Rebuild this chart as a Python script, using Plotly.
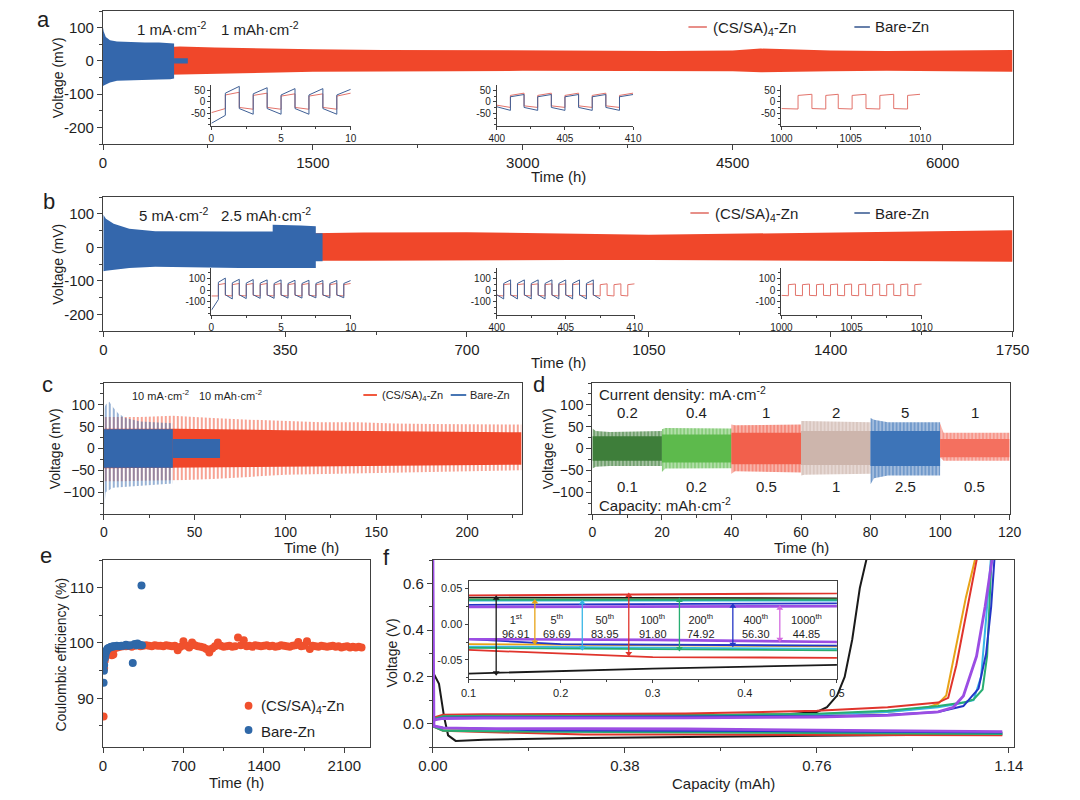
import plotly.graph_objects as go

W, H = 1080, 800
FONT = "Liberation Sans, Arial, Helvetica, sans-serif"
INK = "#1e1e1e"
AX = "#404040"
RED = "#F0472A"
BLUE = "#3467AC"
IN_RED = "#E2736B"
IN_BLUE = "#3F5F95"

# ---------------- panel a : 1 mA cm-2, 1 mAh cm-2 ----------------
a_red_t = [470, 550, 800, 1000, 1500, 2000, 2500, 3000, 3500, 4000, 4500, 4700, 4900, 5200, 5600, 6000, 6500]
a_red_up = [42, 43, 40, 38, 35, 33, 32, 32, 31, 30, 31, 37, 35, 31, 30, 31, 33]
a_red_lo = [-42, -42, -39, -37, -33, -32, -31, -30, -30, -30, -31, -34, -33, -31, -30, -31, -33]
a_blue_t = [0, 5, 20, 50, 100, 200, 300, 400, 480, 508]
a_blue_up = [100, 88, 72, 62, 58, 56, 55, 55, 54, 52]
a_blue_lo = [-76, -74, -70, -65, -60, -58, -57, -56, -55, -53]
a_tail_t = [508, 606]
a_tail_up = [8, 8]
a_tail_lo = [-8, -8]

# insets of a (half-cycle boundaries, start / end voltage of each half-cycle)
a1_tb = [0, 1, 2, 3, 4, 5, 6, 7, 8, 9, 10]
a1_blue_s = [-95, 38, -30, 35, -30, 30, -30, 30, -30, 30]
a1_blue_e = [-60, 68, -55, 62, -55, 58, -55, 58, -55, 55]
a1_red_s = [-48, 30, -25, 28, -25, 25, -25, 25, -25, 25]
a1_red_e = [-30, 42, -33, 38, -33, 35, -33, 35, -33, 38]
a2_tb = [400, 401, 402, 403, 404, 405, 406, 407, 408, 409, 410]
a2_blue_s = [-22, 22, -25, 22, -25, 22, -25, 22, -25, 22]
a2_blue_e = [-38, 32, -38, 32, -38, 32, -38, 32, -38, 32]
a2_red_s = [-15, 28, -18, 28, -18, 28, -18, 28, -18, 28]
a2_red_e = [-25, 38, -25, 38, -25, 38, -25, 38, -25, 38]
a3_tb = [1000, 1001.2, 1002.2, 1003.2, 1004.1, 1005.1, 1006.1, 1007.1, 1008.1, 1009.1, 1010]
a3_red_s = [-30, 28, -30, 28, -30, 28, -30, 28, -30, 28]
a3_red_e = [-32, 33, -32, 33, -32, 33, -32, 33, -32, 33]

# ---------------- panel b : 5 mA cm-2, 2.5 mAh cm-2 ----------------
b_red_t = [400, 500, 700, 900, 1050, 1200, 1400, 1600, 1750]
b_red_up = [42, 44, 45, 40, 37, 40, 43, 48, 51]
b_red_lo = [-40, -40, -40, -38, -38, -39, -40, -42, -43]
b_blue_t = [0, 5, 20, 50, 100, 150, 200, 250, 300, 326, 326, 350, 380, 409, 409, 422]
b_blue_up = [97, 85, 70, 55, 48, 47, 47, 47, 47, 47, 67, 67, 65, 63, 42, 42]
b_blue_lo = [-72, -70, -66, -62, -58, -58, -60, -62, -63, -63, -83, -85, -80, -78, -42, -42]

b1_tb = [0, 0.5, 1, 1.5, 2, 2.5, 3, 3.5, 4, 4.5, 5, 5.5, 6, 6.5, 7, 7.5, 8, 8.5, 9, 9.5, 10]
b1_blue_s = [-170, 65, -40, 60, -40, 58, -40, 58, -40, 55, -40, 55, -40, 55, -40, 55, -40, 55, -40, 55]
b1_blue_e = [-80, 100, -75, 90, -72, 88, -70, 85, -70, 85, -68, 82, -68, 82, -66, 80, -66, 80, -65, 80]
b1_red_s = [-50, 45, -45, 45, -45, 45, -45, 45, -45, 45, -45, 45, -45, 45, -45, 45, -45, 45, -45, 45]
b1_red_e = [-50, 55, -50, 55, -50, 55, -50, 55, -50, 55, -50, 55, -50, 55, -50, 55, -50, 55, -50, 55]
b2_tb = [400, 400.5, 401, 401.5, 402, 402.5, 403, 403.5, 404, 404.5, 405, 405.5, 406, 406.5, 407, 407.5,
         408, 408.5, 409, 409.5, 410]
b2_blue_s = [-40, 55, -40, 55, -40, 55, -40, 55, -40, 55, -40, 55, -40, 55, -40]
b2_blue_e = [-75, 85, -75, 85, -75, 85, -75, 85, -75, 85, -75, 85, -75, 85, -75]
b2_red_s = [-45, 45, -45, 45, -45, 45, -45, 45, -45, 45, -45, 45, -45, 45, -45, 45, -45, 45, -45, 45]
b2_red_e = [-50, 52, -50, 52, -50, 52, -50, 52, -50, 52, -50, 52, -50, 52, -50, 52, -50, 52, -50, 52]
b3_tb = [1000, 1000.5, 1001, 1001.5, 1002, 1002.5, 1003, 1003.5, 1004, 1004.5, 1005, 1005.5, 1006, 1006.5,
         1007, 1007.5, 1008, 1008.5, 1009, 1009.5, 1010]
b3_red_s = [-45, 45, -45, 45, -45, 45, -45, 45, -45, 45, -45, 45, -45, 45, -45, 45, -45, 45, -45, 45]
b3_red_e = [-48, 50, -48, 50, -48, 50, -48, 50, -48, 50, -48, 50, -48, 50, -48, 50, -48, 50, -48, 50]

# ---------------- panel c : 10 mA cm-2, 10 mAh cm-2 ----------------
c_red_t = [0, 10, 20, 38, 45, 60, 80, 100, 120, 140, 160, 180, 200, 230]
c_red_up = [72, 72, 72, 75, 73, 70, 66, 63, 60, 60, 57, 56, 55, 55]
c_red_lo = [-75, -75, -74, -73, -72, -70, -65, -60, -58, -56, -55, -53, -52, -50]
c_red_in_t = [0, 40, 100, 160, 230]
c_red_in_up = [45, 45, 42, 39, 37]
c_red_in_lo = [-45, -44, -42, -39, -37]
c_blue_t = [0, 1, 3, 5, 8, 12, 20, 30, 38]
c_blue_up = [90, 100, 107, 95, 80, 70, 62, 60, 58]
c_blue_lo = [-150, -100, -95, -90, -88, -87, -85, -82, -80]
c_blue_in_t = [0, 38]
c_blue_in_up = [44, 44]
c_blue_in_lo = [-44, -44]
c_blue2_t = [38, 64]
c_blue2_up = [22, 22]
c_blue2_lo = [-22, -22]

# ---------------- panel d : rate test ----------------
d_seg_t = [[0, 1, 5, 20], [20, 21, 40], [40, 41, 60], [60, 61, 80], [80, 81, 85, 100], [100, 101, 120]]
d_seg_up = [[46, 40, 38, 40], [44, 47, 46], [55, 53, 55], [63, 63, 60], [70, 66, 60, 60], [58, 36, 36]]
d_seg_lo = [[-46, -42, -40, -40], [-54, -46, -45], [-58, -52, -55], [-62, -60, -58], [-82, -68, -62, -62],
            [-20, -28, -28]]
d_in_up = [28, 32, 36, 40, 40, 22]
d_in_lo = [-28, -32, -36, -38, -40, -20]
d_colors = ["#3E7E3A", "#5DBA4C", "#F2604C", "#CDB5AC", "#3D74B8", "#F4705F"]
d_tints = ["rgba(62,126,58,0.45)", "rgba(93,186,76,0.45)", "rgba(242,96,76,0.45)",
           "rgba(205,181,172,0.5)", "rgba(61,116,184,0.45)", "rgba(244,112,95,0.45)"]
d_label_t = [10, 30, 50, 70, 90, 110]
d_current = ["0.2", "0.4", "1", "2", "5", "1"]
d_capacity = ["0.1", "0.2", "0.5", "1", "2.5", "0.5"]

# ---------------- panel e : Coulombic efficiency ----------------
e_red_t = [5, 10, 15, 20, 30, 40, 50, 60, 76, 90,
           100, 125, 150, 175, 200, 225, 250, 275, 300, 325, 350, 375, 400, 425, 450, 475, 500, 525, 550,
           575, 600, 625, 650, 675, 700, 725, 750, 775, 800, 825, 850, 875, 900, 925, 950, 975, 1000,
           1025, 1050, 1075, 1100, 1125, 1150, 1175, 1200, 1225, 1250, 1275, 1300, 1325, 1350, 1375,
           1400, 1425, 1450, 1475, 1500, 1525, 1550, 1575, 1600, 1625, 1650, 1675, 1700, 1725, 1750,
           1775, 1800, 1825, 1850, 1875, 1900, 1925, 1950, 1975, 2000, 2025, 2050, 2075, 2100, 2125,
           2150, 2175, 2200, 2225, 2250]
e_red_ce = [86.7, 95.5, 96.8, 97.4, 97.9, 98.3, 98.6, 98.8, 97.8, 97.9,
            99.0, 99.2, 99.3, 99.4, 99.4, 99.5, 99.3, 99.5, 99.6, 99.4, 99.5, 99.6, 99.5, 99.4, 99.6,
            99.5, 99.5, 99.4, 99.6, 99.5, 99.4, 99.5, 98.7, 99.3, 100.3, 99.5, 99.2, 100.1, 99.6, 99.4,
            99.3, 99.2, 98.9, 98.3, 99.0, 99.4, 100.1, 99.5, 99.3, 99.4, 99.5, 99.3, 99.4, 101.0, 99.6,
            100.5, 99.4, 99.5, 99.3, 99.6, 99.5, 99.4, 99.5, 99.6, 99.4, 99.5, 99.3, 99.4, 99.6, 99.5,
            99.4, 99.3, 99.5, 99.6, 100.2, 99.4, 99.5, 100.3, 98.9, 99.5, 99.4, 99.3, 99.5, 99.4, 99.3,
            99.4, 99.5, 99.3, 99.4, 99.2, 99.3, 99.4, 99.2, 99.3, 99.2, 99.3, 99.2]
e_blue_t = [5, 8, 10, 15, 20, 25, 30, 35, 40, 50, 60, 70, 80, 90, 100, 120, 140, 160, 180, 200, 220,
            240, 259, 275, 290, 300, 320, 335, 340]
e_blue_ce = [92.8, 95.0, 96.0, 97.2, 97.8, 98.3, 98.6, 98.8, 99.0, 99.1, 99.2, 99.3, 99.3, 99.4, 99.4,
             99.5, 99.4, 99.5, 99.5, 99.7, 99.5, 99.6, 96.4, 99.8, 99.6, 99.9, 99.7, 110.4, 99.6]

# ---------------- panel f : Zn||Cu voltage profiles ----------------
f_names = ["1", "5", "50", "100", "200", "400", "1000"]
f_sup = ["st", "th", "th", "th", "th", "th", "th"]
f_pol = ["96.91", "69.69", "83.95", "91.80", "74.92", "56.30", "44.85"]
f_colors = ["#1a1a1a", "#E8A317", "#38B6E6", "#E0342C", "#27AE72", "#2436C6", "#9B4DE3"]
f_arrow_colors = ["#1a1a1a", "#E8A317", "#38B6E6", "#E0342C", "#27AE72", "#2436C6", "#D36BE0"]
f_plate_x = [
    [0, 0.012, 0.022, 0.03, 0.045, 0.1, 0.3, 0.5, 0.76, 1.0, 1.127],
    [0, 0.02, 0.1, 0.3, 0.5, 0.76, 1.127],
    [0, 0.02, 0.1, 0.3, 0.5, 0.76, 1.127],
    [0, 0.02, 0.1, 0.3, 0.5, 0.76, 1.127],
    [0, 0.02, 0.1, 0.3, 0.5, 0.76, 1.127],
    [0, 0.02, 0.1, 0.2, 0.5, 0.76, 1.127],
    [0, 0.002, 0.02, 0.1, 0.3, 0.5, 0.76, 1.127],
]
f_plate_y = [
    [0.22, 0.17, 0.03, -0.05, -0.074, -0.069, -0.062, -0.057, -0.052, -0.048, -0.046],
    [-0.01, -0.026, -0.028, -0.030, -0.031, -0.035, -0.040],
    [-0.01, -0.028, -0.031, -0.033, -0.034, -0.037, -0.042],
    [-0.012, -0.030, -0.036, -0.046, -0.047, -0.048, -0.050],
    [-0.012, -0.030, -0.033, -0.035, -0.036, -0.039, -0.044],
    [-0.01, -0.018, -0.021, -0.028, -0.030, -0.033, -0.038],
    [0.7, -0.01, -0.018, -0.021, -0.022, -0.023, -0.028, -0.034],
]
f_strip_x = [
    [0, 0.02, 0.1, 0.3, 0.5, 0.7, 0.76, 0.78, 0.80, 0.815, 0.83, 0.845, 0.86],
    [0, 0.02, 0.1, 0.3, 0.5, 0.76, 0.9, 0.98, 1.0, 1.016, 1.033, 1.055, 1.075],
    [0, 0.02, 0.1, 0.3, 0.5, 0.76, 0.9, 1.0, 1.04, 1.07, 1.085, 1.095, 1.105],
    [0, 0.02, 0.1, 0.3, 0.5, 0.76, 0.9, 1.0, 1.02, 1.036, 1.058, 1.078],
    [0, 0.02, 0.1, 0.3, 0.5, 0.76, 0.9, 1.0, 1.05, 1.07, 1.088, 1.097, 1.102, 1.106],
    [0, 0.02, 0.1, 0.3, 0.5, 0.76, 0.9, 1.0, 1.05, 1.08, 1.095, 1.105, 1.112],
    [0, 0.02, 0.1, 0.3, 0.5, 0.76, 0.9, 1.0, 1.03, 1.05, 1.076, 1.093, 1.108],
]
f_strip_y = [
    [0.01, 0.033, 0.037, 0.037, 0.036, 0.040, 0.050, 0.070, 0.12, 0.20, 0.36, 0.58, 0.72],
    [0.02, 0.030, 0.034, 0.034, 0.034, 0.040, 0.050, 0.070, 0.085, 0.12, 0.30, 0.54, 0.72],
    [0.02, 0.030, 0.033, 0.033, 0.033, 0.040, 0.050, 0.070, 0.085, 0.10, 0.20, 0.45, 0.72],
    [0.025, 0.038, 0.040, 0.042, 0.043, 0.055, 0.070, 0.090, 0.11, 0.25, 0.50, 0.72],
    [0.02, 0.032, 0.034, 0.034, 0.034, 0.042, 0.055, 0.075, 0.09, 0.103, 0.146, 0.29, 0.57, 0.72],
    [0.015, 0.025, 0.027, 0.028, 0.029, 0.032, 0.038, 0.050, 0.075, 0.15, 0.30, 0.50, 0.72],
    [0.015, 0.022, 0.024, 0.024, 0.025, 0.028, 0.035, 0.050, 0.070, 0.118, 0.288, 0.50, 0.72],
]
f_arrow_x = [0.130, 0.172, 0.2235, 0.274, 0.329, 0.387, 0.438]
f_arrow_top = [0.036, 0.031, 0.030, 0.040, 0.033, 0.025, 0.022]
f_arrow_bot = [-0.068, -0.025, -0.033, -0.041, -0.034, -0.028, -0.021]
f_label_x = [0.151, 0.196, 0.248, 0.300, 0.352, 0.412, 0.467]

# ====================================================================
fig = go.Figure()


def ax_names(n):
    return ("x" if n == 1 else f"x{n}"), ("y" if n == 1 else f"y{n}")


def band(t, up, lo, color, n, pattern=None, bg=None):
    xa, ya = ax_names(n)
    xs = list(t) + list(t)[::-1]
    ys = list(up) + list(lo)[::-1]
    kw = dict(x=xs, y=ys, mode="lines", fill="toself", line=dict(width=0, color=color),
              hoverinfo="skip", showlegend=False, xaxis=xa, yaxis=ya)
    if pattern:
        kw["fillcolor"] = bg if bg else "rgba(0,0,0,0)"
        kw["fillpattern"] = dict(shape="|", size=pattern[0], solidity=pattern[1], fgcolor=color,
                                 bgcolor=bg if bg else "rgba(0,0,0,0)")
    else:
        kw["fillcolor"] = color
    fig.add_trace(go.Scatter(**kw))


def steps(tb, s, e, color, n, width=1.0):
    xa, ya = ax_names(n)
    xs, ys = [], []
    for i in range(len(s)):
        xs += [tb[i], tb[i + 1]]
        ys += [s[i], e[i]]
    fig.add_trace(go.Scatter(x=xs, y=ys, mode="lines", line=dict(color=color, width=width),
                             hoverinfo="skip", showlegend=False, xaxis=xa, yaxis=ya))


# panel a
band(a_red_t, a_red_up, a_red_lo, RED, 1)
band(a_blue_t, a_blue_up, a_blue_lo, BLUE, 1)
band(a_tail_t, a_tail_up, a_tail_lo, BLUE, 1)
steps(a1_tb, a1_red_s, a1_red_e, IN_RED, 2)
steps(a1_tb, a1_blue_s, a1_blue_e, IN_BLUE, 2)
steps(a2_tb, a2_red_s, a2_red_e, IN_RED, 3)
steps(a2_tb, a2_blue_s, a2_blue_e, IN_BLUE, 3)
steps(a3_tb, a3_red_s, a3_red_e, IN_RED, 4)

# panel b
band(b_red_t, b_red_up, b_red_lo, RED, 5)
band(b_blue_t, b_blue_up, b_blue_lo, BLUE, 5)
steps(b1_tb, b1_red_s, b1_red_e, IN_RED, 6)
steps(b1_tb, b1_blue_s, b1_blue_e, IN_BLUE, 6)
steps(b2_tb, b2_red_s, b2_red_e, IN_RED, 7)
steps(b2_tb, b2_blue_s, b2_blue_e, IN_BLUE, 7)
steps(b3_tb, b3_red_s, b3_red_e, IN_RED, 8)

# panel c
band(c_red_t, c_red_up, c_red_lo, RED, 9, pattern=(4, 0.5))
band(c_red_in_t, c_red_in_up, c_red_in_lo, RED, 9)
band(c_blue_t, c_blue_up, c_blue_lo, BLUE, 9, pattern=(4, 0.5))
band(c_blue_in_t, c_blue_in_up, c_blue_in_lo, BLUE, 9)
band(c_blue2_t, c_blue2_up, c_blue2_lo, BLUE, 9)

# panel d
for i in range(len(d_seg_t)):
    band(d_seg_t[i], d_seg_up[i], d_seg_lo[i], d_colors[i], 10, pattern=(3.6, 0.55), bg=d_tints[i])
    t_seg = [d_seg_t[i][0], d_seg_t[i][-1]]
    band(t_seg, [d_in_up[i]] * 2, [d_in_lo[i]] * 2, d_colors[i], 10)

# panel e
fig.add_trace(go.Scatter(x=e_red_t, y=e_red_ce, mode="markers", marker=dict(color="#F0502D", size=8),
                         showlegend=False, xaxis="x11", yaxis="y11", hoverinfo="skip"))
fig.add_trace(go.Scatter(x=e_blue_t, y=e_blue_ce, mode="markers", marker=dict(color="#2F68A8", size=8),
                         showlegend=False, xaxis="x11", yaxis="y11", hoverinfo="skip"))

# panel f (main + inset)
for n, lw in ((12, 2.0), (13, 1.8)):
    for i in range(len(f_names)):
        w = lw + (0.8 if i == 6 else 0)
        fig.add_trace(go.Scatter(x=f_plate_x[i], y=f_plate_y[i], mode="lines",
                                 line=dict(color=f_colors[i], width=w), showlegend=False,
                                 xaxis=f"x{n}", yaxis=f"y{n}", hoverinfo="skip"))
        fig.add_trace(go.Scatter(x=f_strip_x[i], y=f_strip_y[i], mode="lines",
                                 line=dict(color=f_colors[i], width=w), showlegend=False,
                                 xaxis=f"x{n}", yaxis=f"y{n}", hoverinfo="skip"))

# double-headed polarisation arrows in the inset of f
for i in range(len(f_names)):
    fig.add_trace(go.Scatter(x=[f_arrow_x[i], f_arrow_x[i]], y=[f_arrow_top[i], f_arrow_bot[i]],
                             mode="lines+markers", line=dict(color=f_arrow_colors[i], width=1.3),
                             marker=dict(symbol=["triangle-up", "triangle-down"], size=6,
                                         color=f_arrow_colors[i], line=dict(width=0)),
                             showlegend=False, xaxis="x13", yaxis="y13", hoverinfo="skip",
                             cliponaxis=False))

# ====================================================================
layout = {}


def xd(l, r):
    return [l / W, r / W]


def yd(top, bottom):
    return [1 - bottom / H, 1 - top / H]


def minor(dt, ln=3):
    return dict(ticks="outside", ticklen=ln, tickwidth=1, tickcolor=AX, dtick=dt, tick0=0, showgrid=False)


def set_axes(n, xdom, ydom, xr, yr, xkw, ykw, inset=False, fs=None):
    xn, yn = ax_names(n)
    if fs is None:
        fs = 10 if inset else 15
    base = dict(showline=True, linecolor=AX, linewidth=1.0 if inset else 1.2, mirror=not inset,
                ticks="outside", ticklen=3 if inset else 5, tickwidth=1.0, tickcolor=AX,
                showgrid=False, zeroline=False, fixedrange=True,
                tickfont=dict(family=FONT, size=fs, color=INK))
    xa = dict(base)
    xa.update(domain=xdom, range=xr, anchor=yn)
    xa.update(xkw)
    ya = dict(base)
    ya.update(domain=ydom, range=yr, anchor=xn)
    ya.update(ykw)
    layout["xaxis" if n == 1 else f"xaxis{n}"] = xa
    layout["yaxis" if n == 1 else f"yaxis{n}"] = ya


yab = dict(tickvals=[-200, -100, 0, 100], ticktext=["-200", "-100", "0", "100"], minor=minor(50))
# a
set_axes(1, xd(90.7, 1028), yd(11, 144), [0, 6500], [-250, 150],
         dict(dtick=1500, tick0=0, minor=minor(750)), yab)
ins_a_y = dict(tickvals=[-50, 0, 50], ticktext=["-50", "0", "50"], minor=minor(25, 2))
set_axes(2, xd(202.4, 346), yd(85, 126), [0, 10], [-107, 74],
         dict(tickvals=[0, 5, 10], minor=minor(2.5, 2)), ins_a_y, inset=True)
set_axes(3, xd(496.5, 637), yd(85, 126), [400, 410], [-107, 74],
         dict(tickvals=[400, 405, 410], minor=minor(2.5, 2)), ins_a_y, inset=True)
set_axes(4, xd(789.8, 932.7), yd(85, 126), [1000, 1010], [-107, 74],
         dict(tickvals=[1000, 1005, 1010], minor=minor(2.5, 2)), ins_a_y, inset=True)
# b
set_axes(5, xd(91, 1028), yd(197, 331), [0, 1750], [-250, 150],
         dict(dtick=350, tick0=0, minor=minor(175)), yab)
ins_b_y = dict(tickvals=[-100, 0, 100], ticktext=["-100", "0", "100"], minor=minor(50, 2))
set_axes(6, xd(202.4, 346), yd(268, 315), [0, 10], [-210, 185],
         dict(tickvals=[0, 5, 10], minor=minor(2.5, 2)), ins_b_y, inset=True)
set_axes(7, xd(496.5, 638.6), yd(268, 315), [400, 410], [-210, 185],
         dict(tickvals=[400, 405, 410], minor=minor(2.5, 2)), ins_b_y, inset=True)
set_axes(8, xd(789.8, 934.5), yd(268, 315), [1000, 1010], [-210, 185],
         dict(tickvals=[1000, 1005, 1010], minor=minor(2.5, 2)), ins_b_y, inset=True)
# c, d
ycd = dict(tickvals=[-100, -50, 0, 50, 100], minor=minor(25))
set_axes(9, xd(91.5, 522), yd(383, 514), [0, 230], [-150, 150],
         dict(dtick=50, tick0=0, minor=minor(25)), ycd, fs=14)
set_axes(10, xd(595, 1025), yd(383, 514), [0, 120], [-150, 150],
         dict(dtick=20, tick0=0, minor=minor(10)), ycd, fs=14)
# e
set_axes(11, xd(90.7, 366), yd(560, 747), [0, 2325], [81.2, 115],
         dict(dtick=700, tick0=0, minor=minor(350)),
         dict(tickvals=[90, 100, 110], minor=minor(5)))
# f
set_axes(12, xd(430.7, 1029.4), yd(560, 747), [0, 1.15], [-0.1, 0.7],
         dict(tickvals=[0, 0.38, 0.76, 1.14], ticktext=["0.00", "0.38", "0.76", "1.14"], minor=minor(0.19)),
         dict(tickvals=[0, 0.2, 0.4, 0.6], ticktext=["0.0", "0.2", "0.4", "0.6"], minor=minor(0.1)))
set_axes(13, xd(467.4, 847), yd(580.7, 679.3), [0.1, 0.5], [-0.077, 0.0606],
         dict(tickvals=[0.1, 0.2, 0.3, 0.4, 0.5], ticktext=["0.1", "0.2", "0.3", "0.4", "0.5"],
              minor=minor(0.05, 2), mirror=True),
         dict(tickvals=[-0.05, 0, 0.05], ticktext=["-0.05", "0.00", "0.05"], minor=minor(0.025, 2),
              mirror=True), inset=True, fs=11)

# ====================================================================
ann = []
shapes = []


def text(t, xp, yp, size=15, xanchor="center", angle=0, color=INK):
    ann.append(dict(text=t, x=xp / W, y=1 - yp / H, xref="paper", yref="paper", showarrow=False,
                    xanchor=xanchor, yanchor="middle", textangle=angle,
                    font=dict(family=FONT, size=size, color=color)))


def legline(x0, x1, yp, color, w=1.6):
    shapes.append(dict(type="line", xref="paper", yref="paper", x0=x0 / W, x1=x1 / W,
                       y0=1 - yp / H, y1=1 - yp / H, line=dict(color=color, width=w)))


# panel letters
for lt, xp, yp in (("a", 29, 19), ("b", 35, 202), ("c", 34, 385), ("d", 540, 385), ("e", 32, 555), ("f", 383, 557)):
    text(lt, xp, yp, size=22)

# a
text("1 mA·cm<sup>-2</sup>", 124, 28, xanchor="left")
text("1 mAh·cm<sup>-2</sup>", 210, 28, xanchor="left")
legline(694, 713, 27, IN_RED)
text("(CS/SA)<sub>4</sub>-Zn", 717, 28, xanchor="left")
legline(865, 881, 27, IN_BLUE)
text("Bare-Zn", 884, 27, xanchor="left")
text("Voltage (mV)", 44, 77.5, size=14, angle=-90)
text("Time (h)", 560, 177)
# b
text("5 mA·cm<sup>-2</sup>", 126, 214, xanchor="left")
text("2.5 mAh·cm<sup>-2</sup>", 210, 214, xanchor="left")
legline(696, 715, 213, IN_RED)
text("(CS/SA)<sub>4</sub>-Zn", 719, 214, xanchor="left")
legline(865, 881, 213, IN_BLUE)
text("Bare-Zn", 884, 213, xanchor="left")
text("Voltage (mV)", 44, 264, size=14, angle=-90)
text("Time (h)", 560, 362)
# c
text("10 mA·cm<sup>-2</sup>", 118, 395, size=11, xanchor="left")
text("10 mAh·cm<sup>-2</sup>", 188, 395, size=11, xanchor="left")
legline(359, 373, 395, RED, 1.8)
text("(CS/SA)<sub>4</sub>-Zn", 376, 396, size=11, xanchor="left")
legline(449, 465, 395, BLUE, 1.8)
text("Bare-Zn", 467, 395, size=11, xanchor="left")
text("Voltage (mV)", 41, 448.5, size=14, angle=-90)
text("Time (h)", 306, 547)
# d
text("Current density: mA·cm<sup>-2</sup>", 600, 393, xanchor="left")
text("Capacity: mAh·cm<sup>-2</sup>", 600, 504, xanchor="left")
for i in range(len(d_label_t)):
    ann.append(dict(text=d_current[i], x=d_label_t[i], y=82, xref="x10", yref="y10", showarrow=False,
                    font=dict(family=FONT, size=15, color=INK)))
    ann.append(dict(text=d_capacity[i], x=d_label_t[i], y=-87, xref="x10", yref="y10", showarrow=False,
                    font=dict(family=FONT, size=15, color=INK)))
text("Voltage (mV)", 549, 448.5, size=14, angle=-90)
text("Time (h)", 810, 547)
# e
for col, yp, lab in (("#F0502D", 705.7, "(CS/SA)<sub>4</sub>-Zn"), ("#2F68A8", 730, "Bare-Zn")):
    shapes.append(dict(type="circle", xref="paper", yref="paper", x0=(240.7 - 4) / W, x1=(240.7 + 4) / W,
                       y0=1 - (yp + 4) / H, y1=1 - (yp - 4) / H, fillcolor=col, line=dict(width=0)))
    text(lab, 251, yp + 1, xanchor="left")
text("Coulombic efficiency (%)", 47, 655, size=14, angle=-90)
text("Time (h)", 228, 782)
# f
text("Voltage (V)", 388, 653, size=14, angle=-90)
text("Capacity (mAh)", 730, 783)
for i in range(len(f_names)):
    ann.append(dict(x=f_label_x[i], y=-0.0025, xref="x13", yref="y13", showarrow=False,
                    text=f"{f_names[i]}<sup>{f_sup[i]}</sup><br>{f_pol[i]}",
                    font=dict(family=FONT, size=11, color=INK)))

fig.update_layout(
    width=W, height=H, autosize=False,
    margin=dict(l=0, r=0, t=0, b=0, pad=0),
    paper_bgcolor="white", plot_bgcolor="white",
    font=dict(family=FONT, size=15, color=INK),
    showlegend=False,
    annotations=ann, shapes=shapes,
    **layout,
)

fig.write_html(
    "out.html",
    config={"displayModeBar": False},
    post_script=("document.documentElement.style.margin='0';document.body.style.margin='0';"
                 "document.body.style.overflow='hidden';document.documentElement.style.overflow='hidden';"),
)
